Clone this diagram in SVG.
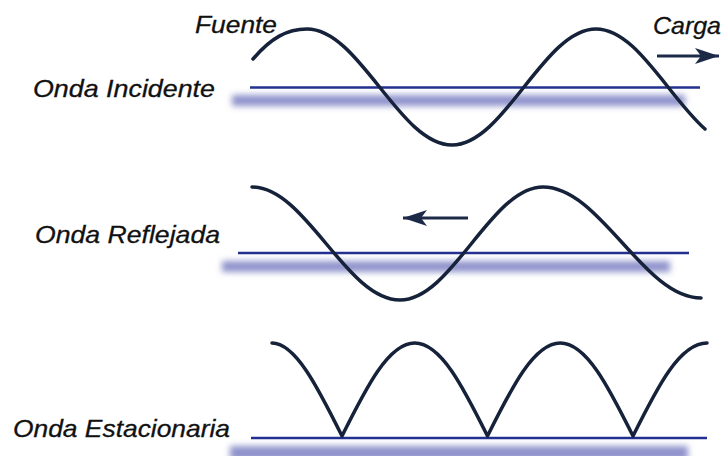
<svg xmlns="http://www.w3.org/2000/svg" width="723" height="456" viewBox="0 0 723 456">
<defs>
<filter id="blur" x="-10%" y="-100%" width="120%" height="300%"><feGaussianBlur stdDeviation="3"/></filter>
<marker id="head" markerUnits="userSpaceOnUse" markerWidth="26" markerHeight="18" refX="24" refY="8" orient="auto" overflow="visible">
<path d="M0,0 L24,8 L0,16 L6,8 Z" fill="#1c2a48"/>
</marker>
<style>
.lbl{font-family:"Liberation Sans",Arial,sans-serif;font-style:italic;font-size:24px;fill:#111111;stroke:#111111;stroke-width:0.3}
.wave{fill:none;stroke:#15223a;stroke-width:3.5;stroke-linecap:round;stroke-linejoin:round}
.axis{stroke:#23308f;stroke-width:2.5}
.shadow{fill:#8e92cb;filter:url(#blur)}
.arrow{stroke:#1c2a48;stroke-width:3;fill:none;marker-end:url(#head)}
</style>
</defs>
<rect width="723" height="456" fill="#ffffff"/>

<g id="onda-incidente">
<rect class="shadow" x="232" y="95" width="453" height="11"/>
<line class="axis" x1="250" y1="87.5" x2="700" y2="87.5"/>
<path class="wave" d="M253,59 C271,38 287,29 307,29 C359.7,29 399.3,145 452,145 C504.3,145 543.7,29 596,29 C621.9,29 643.9,56.5 668,87 C680,102.2 693,118.5 705,129"/>
<text class="lbl" x="33" y="97" textLength="182" lengthAdjust="spacingAndGlyphs">Onda Incidente</text>
<text class="lbl" x="195" y="33" textLength="82" lengthAdjust="spacingAndGlyphs">Fuente</text>
<text class="lbl" x="653" y="34" textLength="68" lengthAdjust="spacingAndGlyphs">Carga</text>
</g>

<g id="onda-reflejada">
<rect class="shadow" x="222" y="261" width="448" height="11"/>
<line class="axis" x1="238" y1="253" x2="689" y2="253"/>
<path class="wave" d="M252,187 C305.8,187 346.2,300 400,300 C452,300 491,187 543,187 C600.4,187 643.6,298 701,298"/>
<text class="lbl" x="35" y="243" textLength="185" lengthAdjust="spacingAndGlyphs">Onda Reflejada</text>
</g>

<g id="onda-estacionaria">
<rect class="shadow" x="230" y="446" width="458" height="14"/>
<line class="axis" x1="251" y1="438" x2="707" y2="438"/>
<path class="wave" d="M272,343 C295.4,343 317.7,387.2 342,436 C366.3,387.2 388.6,343 414.75,343 C440.9,343 463.2,387.2 487.5,436 C511.8,387.2 534.1,343 560.25,343 C586.4,343 608.7,387.2 633,436 C657.3,387.2 679.6,343 707,343"/>
<text class="lbl" x="13" y="437" textLength="217" lengthAdjust="spacingAndGlyphs">Onda Estacionaria</text>
</g>

<g id="connectors">
<path class="arrow" d="M657,56 H719"/>
<path class="arrow" d="M468,218 H403"/>
</g>
</svg>
